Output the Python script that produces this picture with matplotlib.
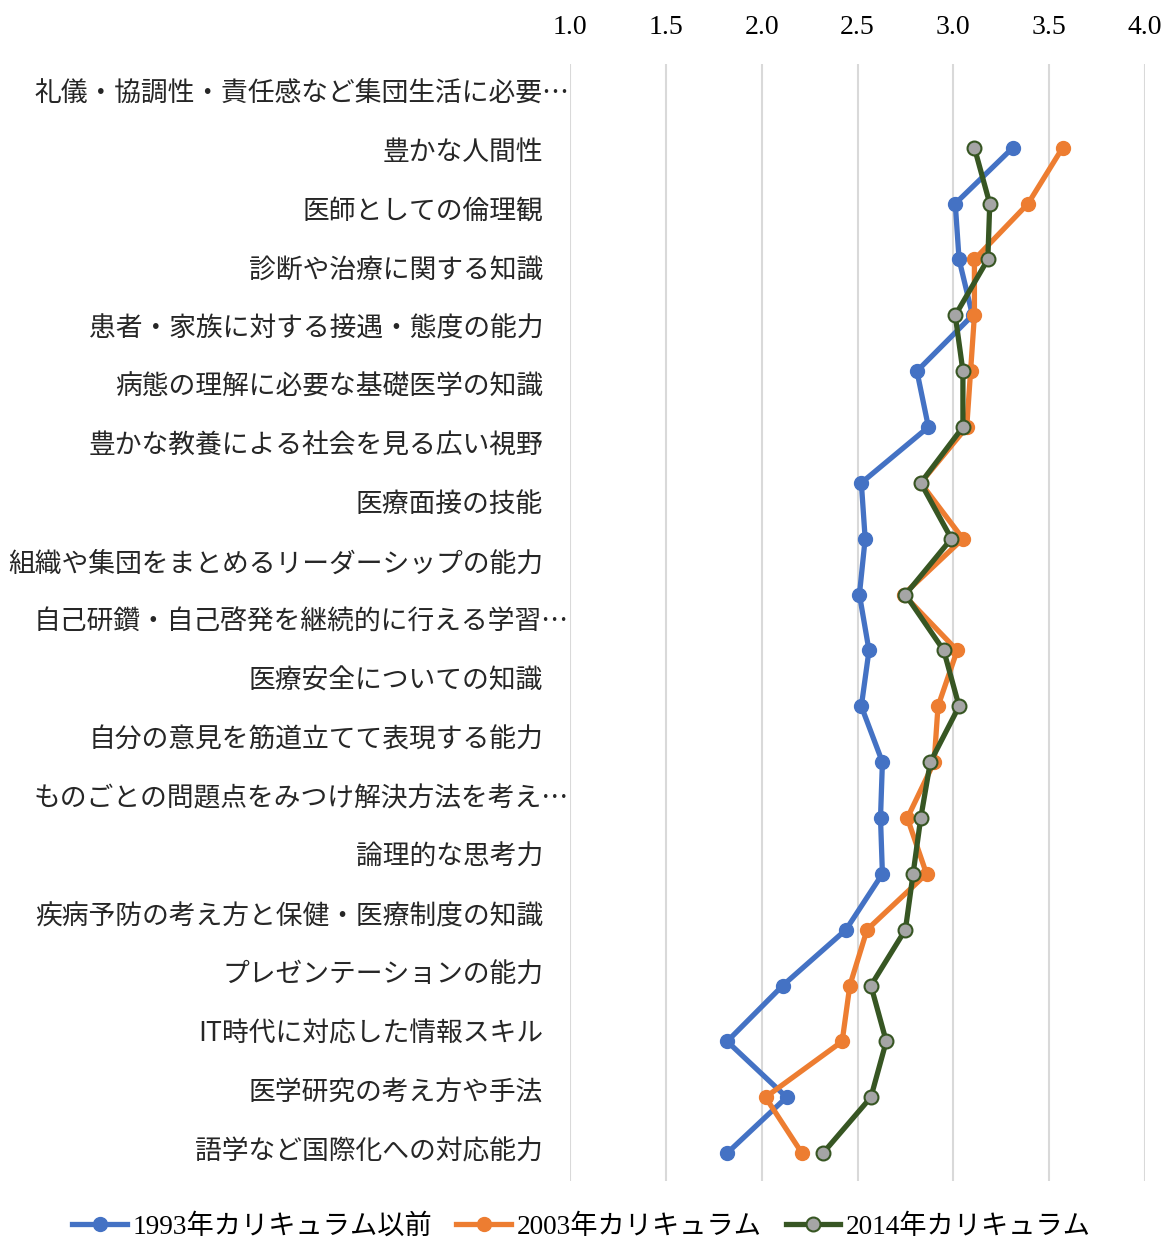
import numpy as np
import matplotlib
matplotlib.use("Agg")
import matplotlib.pyplot as plt
from matplotlib.transforms import blended_transform_factory, ScaledTranslation

plt.rcParams['font.family'] = ['Liberation Serif', 'Noto Sans CJK JP', 'DejaVu Sans']

categories = [
    "礼儀・協調性・責任感など集団生活に必要…",
    "豊かな人間性",
    "医師としての倫理観",
    "診断や治療に関する知識",
    "患者・家族に対する接遇・態度の能力",
    "病態の理解に必要な基礎医学の知識",
    "豊かな教養による社会を見る広い視野",
    "医療面接の技能",
    "組織や集団をまとめるリーダーシップの能力",
    "自己研鑽・自己啓発を継続的に行える学習…",
    "医療安全についての知識",
    "自分の意見を筋道立てて表現する能力",
    "ものごとの問題点をみつけ解決方法を考え…",
    "論理的な思考力",
    "疾病予防の考え方と保健・医療制度の知識",
    "プレゼンテーションの能力",
    "IT時代に対応した情報スキル",
    "医学研究の考え方や手法",
    "語学など国際化への対応能力",
]

series_names = ["1993年カリキュラム以前", "2003年カリキュラム", "2014年カリキュラム"]

values_1993 = [3.31, 3.01, 3.03, 3.10, 2.81, 2.87, 2.52, 2.54, 2.51, 2.56,
               2.52, 2.63, 2.62, 2.63, 2.44, 2.11, 1.82, 2.13, 1.82]
values_2003 = [3.57, 3.39, 3.11, 3.11, 3.09, 3.07, 2.83, 3.05, 2.74, 3.02,
               2.92, 2.90, 2.76, 2.86, 2.55, 2.46, 2.42, 2.02, 2.21]
values_2014 = [3.11, 3.19, 3.18, 3.01, 3.05, 3.05, 2.83, 2.99, 2.75, 2.95,
               3.03, 2.88, 2.83, 2.79, 2.75, 2.57, 2.65, 2.57, 2.32]

x_ticks = [1.0, 1.5, 2.0, 2.5, 3.0, 3.5, 4.0]

colors = ["#4472C4", "#ED7D31", "#375623"]

W, H = 1163, 1243
fig = plt.figure(figsize=(W / 100, H / 100), dpi=100)
ax = fig.add_axes([570 / W, 1 - 1181 / H, (1145 - 570) / W, (1181 - 64) / H])

n_slots = len(values_1993) + 1          # first slot left empty
slots = np.arange(1, n_slots)
ax.set_ylim(n_slots - 0.5, -0.5)
ax.set_xlim(1.0, 4.0)

# vertical gridlines
for xv in x_ticks:
    ax.axvline(xv, color="#d9d9d9", lw=1.5, zorder=0)

lw = 3.8
ax.plot(values_1993, slots, color=colors[0], lw=lw, marker="o", ms=10,
        mfc=colors[0], mec=colors[0], label=series_names[0], zorder=3,
        solid_joinstyle="round")
ax.plot(values_2003, slots, color=colors[1], lw=lw, marker="o", ms=10,
        mfc=colors[1], mec=colors[1], label=series_names[1], zorder=4,
        solid_joinstyle="round")
ax.plot(values_2014, slots, color=colors[2], lw=lw, marker="o", ms=10,
        mfc="#A5A5A5", mec=colors[2], mew=1.5, label=series_names[2], zorder=5,
        solid_joinstyle="round")

for s in ax.spines.values():
    s.set_visible(False)

# value axis on top
ax.xaxis.tick_top()
ax.set_xticks(x_ticks)
ax.set_xticklabels([f"{v:.1f}" for v in x_ticks], fontsize=20)
ax.tick_params(axis="x", length=0, pad=17)

# category labels spread evenly over the axis height
ax.set_yticks([])
n = len(categories)
label_pos = (np.arange(n) + 0.5) * n_slots / n - 0.5
trans = blended_transform_factory(ax.transAxes, ax.transData)
for lbl, yp in zip(categories, label_pos):
    extra = 26 / 100 if lbl.endswith("…") else 0
    t = trans + ScaledTranslation(-27 / 100 + extra, 0, fig.dpi_scale_trans)
    ax.text(0, yp, lbl, transform=t, ha="right", va="center", fontsize=19.3,
            color="#262626", family=['Noto Sans CJK JP', 'DejaVu Sans'])

leg = fig.legend(loc="center", bbox_to_anchor=(0.5, 1 - 1227 / H), ncol=3,
                 frameon=False, fontsize=19.6, handlelength=2.0,
                 handletextpad=0.2, columnspacing=0.9, borderaxespad=0)

fig.savefig("out.png", dpi=100)
